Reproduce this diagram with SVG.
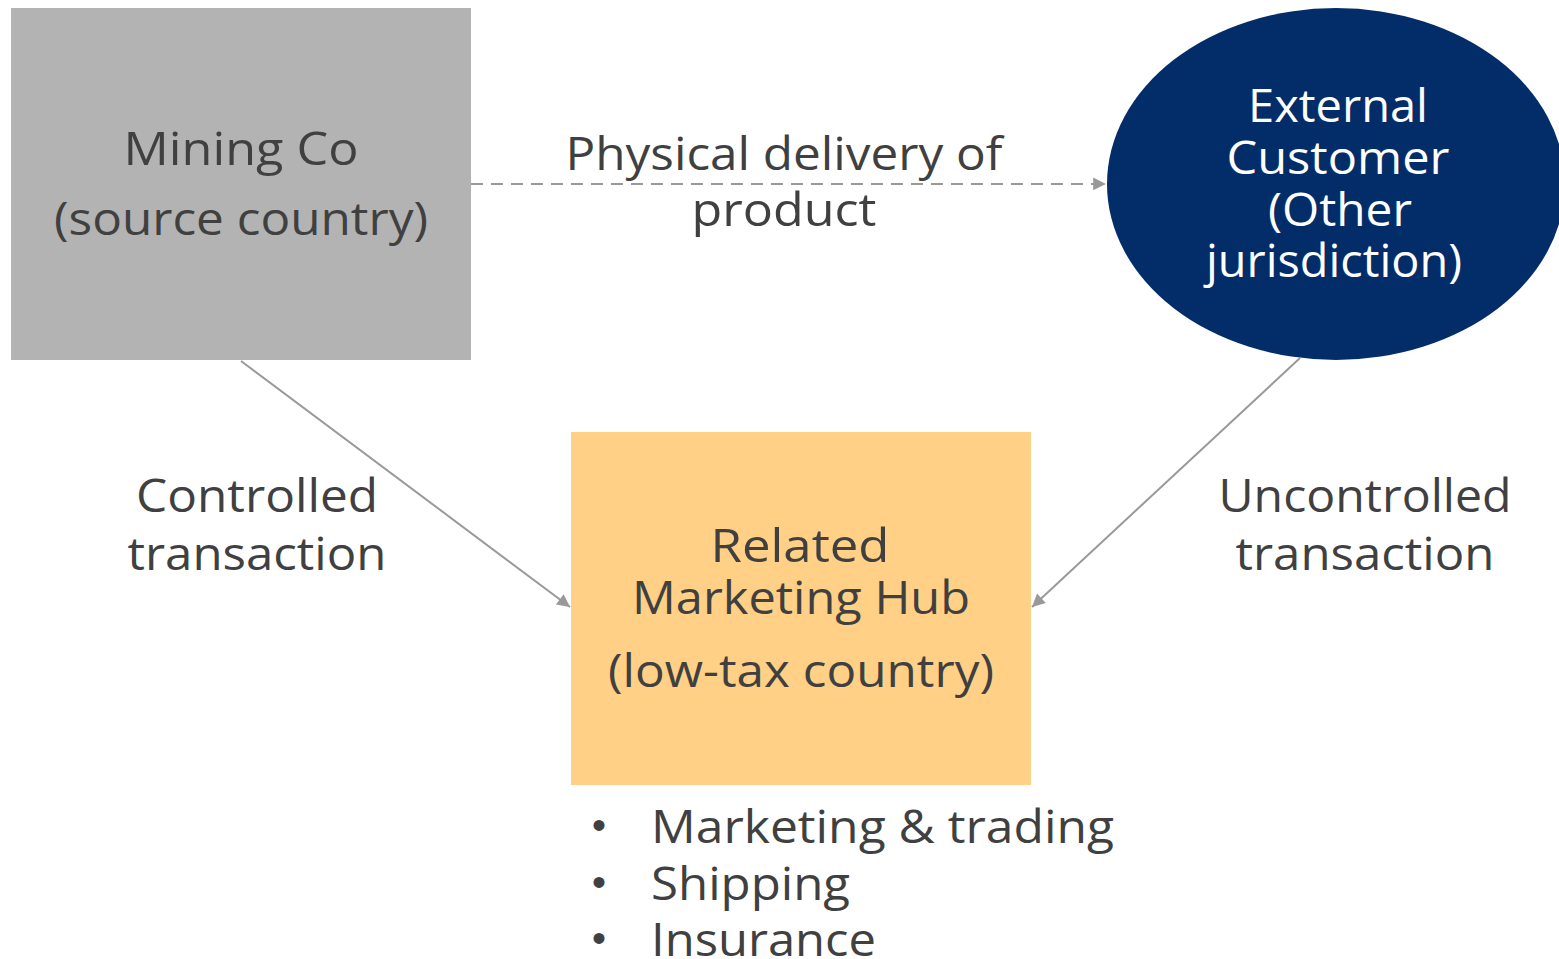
<svg xmlns="http://www.w3.org/2000/svg" width="1559" height="959" viewBox="0 0 1559 959">
<style>
.t{font-family:"Open Sans","Lato","Liberation Sans",sans-serif;font-size:46px;fill:#404040;text-anchor:middle}
.w{fill:#ffffff}
.s{font-family:"Open Sans","Lato","Liberation Sans",sans-serif;font-size:46px;fill:#404040}
.b{font-family:"Liberation Sans",sans-serif;font-size:40px;fill:#404040;text-anchor:middle}
.c{stroke:#999999;stroke-width:2;fill:none}
</style>
<defs>
<marker id="ah" viewBox="0 0 10 10" refX="10" refY="5" markerWidth="8" markerHeight="8" markerUnits="userSpaceOnUse" orient="auto" style="overflow:visible">
<path d="M0,0 L10,5 L0,10 z" fill="#999999" transform="scale(1.6) translate(-3.75,-1.9)"/>
</marker>
</defs>
<rect width="1559" height="959" fill="#ffffff"/>
<g id="connectors">
<line class="c" x1="471" y1="184" x2="1106" y2="184" stroke-dasharray="12,8" marker-end="url(#ah)"/>
<line class="c" x1="241" y1="361" x2="570" y2="607" marker-end="url(#ah)"/>
<line class="c" x1="1300" y1="358" x2="1032" y2="607" marker-end="url(#ah)"/>
</g>
<g id="mining">
<rect x="11" y="8" width="460" height="352" fill="#b3b3b3"/>
<text class="t" x="241" y="165" textLength="235" lengthAdjust="spacingAndGlyphs">Mining Co</text>
<text class="t" x="241" y="235" textLength="374" lengthAdjust="spacingAndGlyphs">(source country)</text>
</g>
<g id="customer">
<ellipse cx="1336" cy="184" rx="229" ry="176" fill="#022d69"/>
<text class="t w" x="1338" y="122" textLength="180" lengthAdjust="spacingAndGlyphs">External</text>
<text class="t w" x="1338" y="174" textLength="223" lengthAdjust="spacingAndGlyphs">Customer</text>
<text class="t w" x="1340" y="226" textLength="144" lengthAdjust="spacingAndGlyphs">(Other</text>
<text class="t w" x="1334" y="277" textLength="256" lengthAdjust="spacingAndGlyphs">jurisdiction)</text>
</g>
<g id="hub">
<rect x="571" y="432" width="460" height="353" fill="#ffd086"/>
<text class="t" x="800" y="562" textLength="179" lengthAdjust="spacingAndGlyphs">Related</text>
<text class="t" x="801" y="614" textLength="338" lengthAdjust="spacingAndGlyphs">Marketing Hub</text>
<text class="t" x="801" y="687" textLength="386" lengthAdjust="spacingAndGlyphs">(low-tax country)</text>
</g>
<g id="labels">
<text class="t" x="784" y="170" textLength="437" lengthAdjust="spacingAndGlyphs">Physical delivery of</text>
<text class="t" x="784" y="226" textLength="185" lengthAdjust="spacingAndGlyphs">product</text>
<text class="t" x="257" y="512" textLength="242" lengthAdjust="spacingAndGlyphs">Controlled</text>
<text class="t" x="257" y="570" textLength="259" lengthAdjust="spacingAndGlyphs">transaction</text>
<text class="t" x="1365" y="512" textLength="293" lengthAdjust="spacingAndGlyphs">Uncontrolled</text>
<text class="t" x="1365" y="570" textLength="259" lengthAdjust="spacingAndGlyphs">transaction</text>
</g>
<g id="bullets">
<text class="b" x="599" y="839">•</text>
<text class="s" x="651" y="843" textLength="463" lengthAdjust="spacingAndGlyphs">Marketing &amp; trading</text>
<text class="b" x="599" y="896">•</text>
<text class="s" x="651" y="900" textLength="199" lengthAdjust="spacingAndGlyphs">Shipping</text>
<text class="b" x="599" y="952">•</text>
<text class="s" x="651" y="956" textLength="225" lengthAdjust="spacingAndGlyphs">Insurance</text>
</g>
</svg>
